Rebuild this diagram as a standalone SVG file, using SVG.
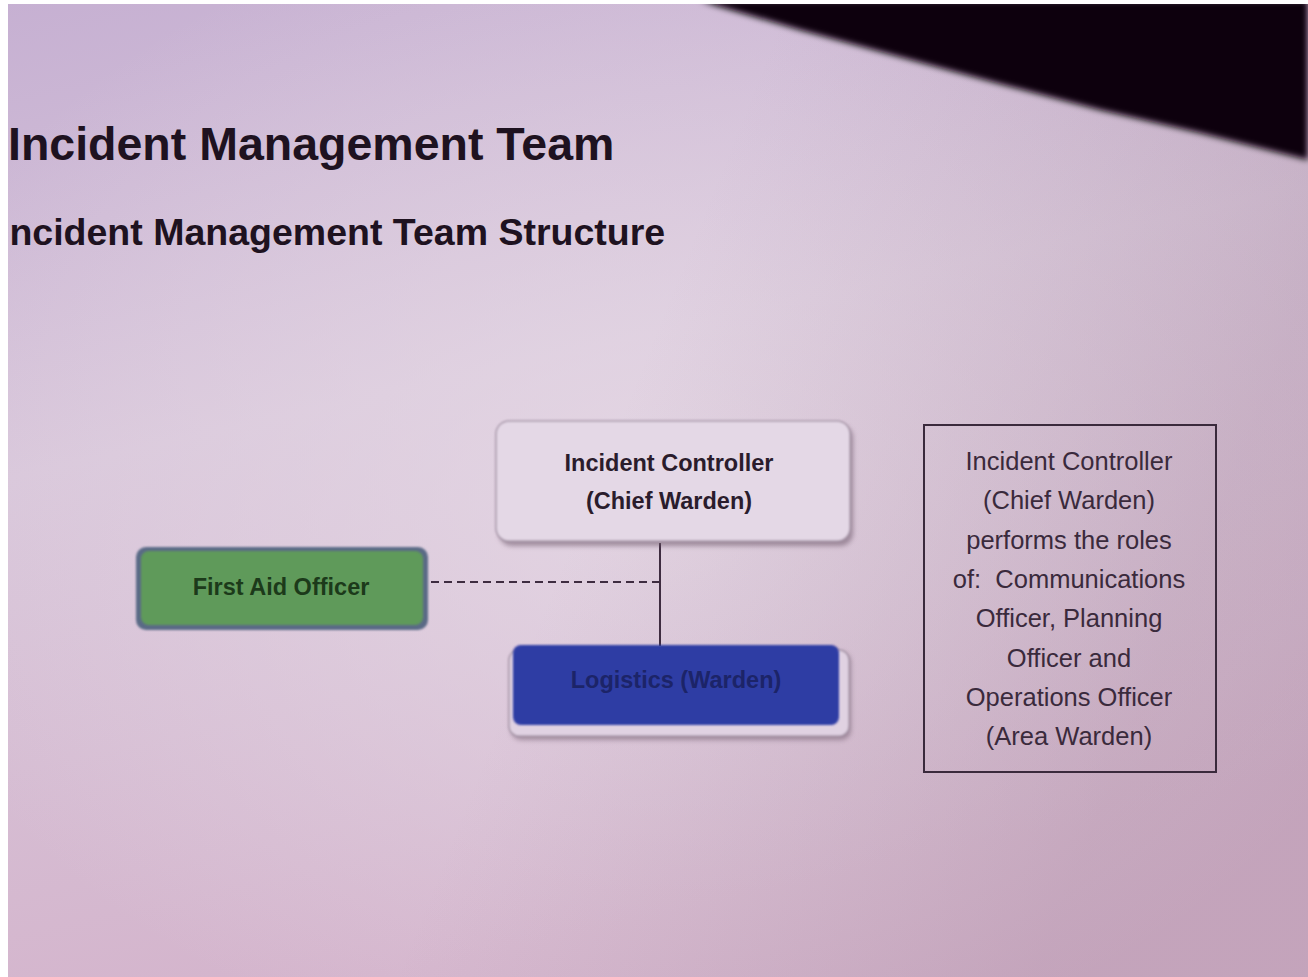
<svg xmlns="http://www.w3.org/2000/svg" width="1308" height="977" viewBox="0 0 1308 977">
  <defs>
    <linearGradient id="bg" x1="0" y1="0" x2="0.3" y2="1">
      <stop offset="0" stop-color="#c6b0d2"/>
      <stop offset="0.45" stop-color="#d8c6da"/>
      <stop offset="1" stop-color="#d4b4cc"/>
    </linearGradient>
    <radialGradient id="glow" cx="0.5" cy="0.5" r="0.6">
      <stop offset="0" stop-color="#e6dae6" stop-opacity="0.8"/>
      <stop offset="1" stop-color="#e6dae6" stop-opacity="0"/>
    </radialGradient>
    <linearGradient id="shade" x1="0" y1="0" x2="1" y2="0.3">
      <stop offset="0.55" stop-color="#8a6a80" stop-opacity="0"/>
      <stop offset="1" stop-color="#8a6a80" stop-opacity="0.22"/>
    </linearGradient>
    <filter id="soft" x="-5%" y="-5%" width="110%" height="110%">
      <feGaussianBlur stdDeviation="0.9"/>
    </filter>
    <filter id="edge" x="-5%" y="-20%" width="110%" height="140%">
      <feGaussianBlur stdDeviation="3"/>
    </filter>
    <filter id="shadow" x="-10%" y="-20%" width="120%" height="150%">
      <feGaussianBlur stdDeviation="2.5"/>
    </filter>
  </defs>
  <style>
    .title { font-family: "Liberation Sans", Arial, sans-serif; font-weight: bold; fill: #1e1220; }
    .node { font-family: "Liberation Sans", Arial, sans-serif; font-weight: bold; font-size: 23.5px; text-anchor: middle; }
    .note { font-family: "Liberation Sans", Arial, sans-serif; font-size: 25.5px; text-anchor: middle; fill: #3a2a3c; }
  </style>

  <!-- background -->
  <rect x="0" y="0" width="1308" height="977" fill="url(#bg)"/>
  <rect x="0" y="0" width="1308" height="977" fill="url(#glow)"/>
  <rect x="0" y="0" width="1308" height="977" fill="url(#shade)"/>
  <polygon points="700,0 1308,0 1308,160 1200,133 1100,110 1000,84 900,57 800,30 714,5" fill="#0c0508" filter="url(#edge)"/>

  <!-- titles -->
  <text class="title" x="8" y="160" font-size="46.5">Incident Management Team</text>
  <text class="title" x="-1" y="245" font-size="37.5">Incident Management Team Structure</text>

  <!-- connectors -->
  <g id="connectors" stroke="#3e2c40" fill="none">
    <line x1="660" y1="543" x2="660" y2="646" stroke-width="2"/>
    <line x1="431" y1="582" x2="660" y2="582" stroke-width="2" stroke-dasharray="8 5"/>
  </g>

  <!-- Incident Controller -->
  <g id="incident-controller">
    <rect x="499" y="425" width="354" height="121" rx="13" fill="#6a5468" opacity="0.55" filter="url(#shadow)"/>
    <rect x="496" y="421" width="354" height="120" rx="13" fill="#e4d8e6" stroke="#a898aa" stroke-width="1.5" filter="url(#soft)"/>
    <text class="node" x="669" y="471" fill="#2a1c2c">Incident Controller</text>
    <text class="node" x="669" y="509" fill="#2a1c2c">(Chief Warden)</text>
  </g>

  <!-- First Aid Officer -->
  <g id="first-aid-officer">
    <rect x="136" y="547" width="292" height="83" rx="10" fill="#5a6a86" filter="url(#soft)"/>
    <rect x="141" y="551" width="282" height="74" rx="8" fill="#5f9a5a" filter="url(#soft)"/>
    <text class="node" x="281" y="595" fill="#1c3a1a" font-size="24">First Aid Officer</text>
  </g>

  <!-- Logistics (Warden) -->
  <g id="logistics-warden">
    <rect x="511" y="652" width="340" height="88" rx="10" fill="#6a5468" opacity="0.5" filter="url(#shadow)"/>
    <rect x="509" y="650" width="340" height="86" rx="10" fill="#e0d2e2" stroke="#a898aa" stroke-width="1.5" filter="url(#soft)"/>
    <rect x="513" y="645" width="326" height="80" rx="8" fill="#2e3ca4" filter="url(#soft)"/>
    <text class="node" x="676" y="688" fill="#1c2468" font-size="24">Logistics (Warden)</text>
  </g>

  <!-- note box -->
  <g id="note">
    <rect x="924" y="425" width="292" height="347" fill="none" stroke="#3a2a3c" stroke-width="2"/>
    <text class="note" x="1069" y="470">Incident Controller</text>
    <text class="note" x="1069" y="509">(Chief Warden)</text>
    <text class="note" x="1069" y="549">performs the roles</text>
    <text class="note" x="1069" y="588" xml:space="preserve">of:  Communications</text>
    <text class="note" x="1069" y="627">Officer, Planning</text>
    <text class="note" x="1069" y="667">Officer and</text>
    <text class="note" x="1069" y="706">Operations Officer</text>
    <text class="note" x="1069" y="745">(Area Warden)</text>
  </g>

  <!-- photo border -->
  <rect x="0" y="0" width="1308" height="4" fill="#ffffff"/>
  <rect x="0" y="0" width="8" height="977" fill="#ffffff"/>
</svg>
